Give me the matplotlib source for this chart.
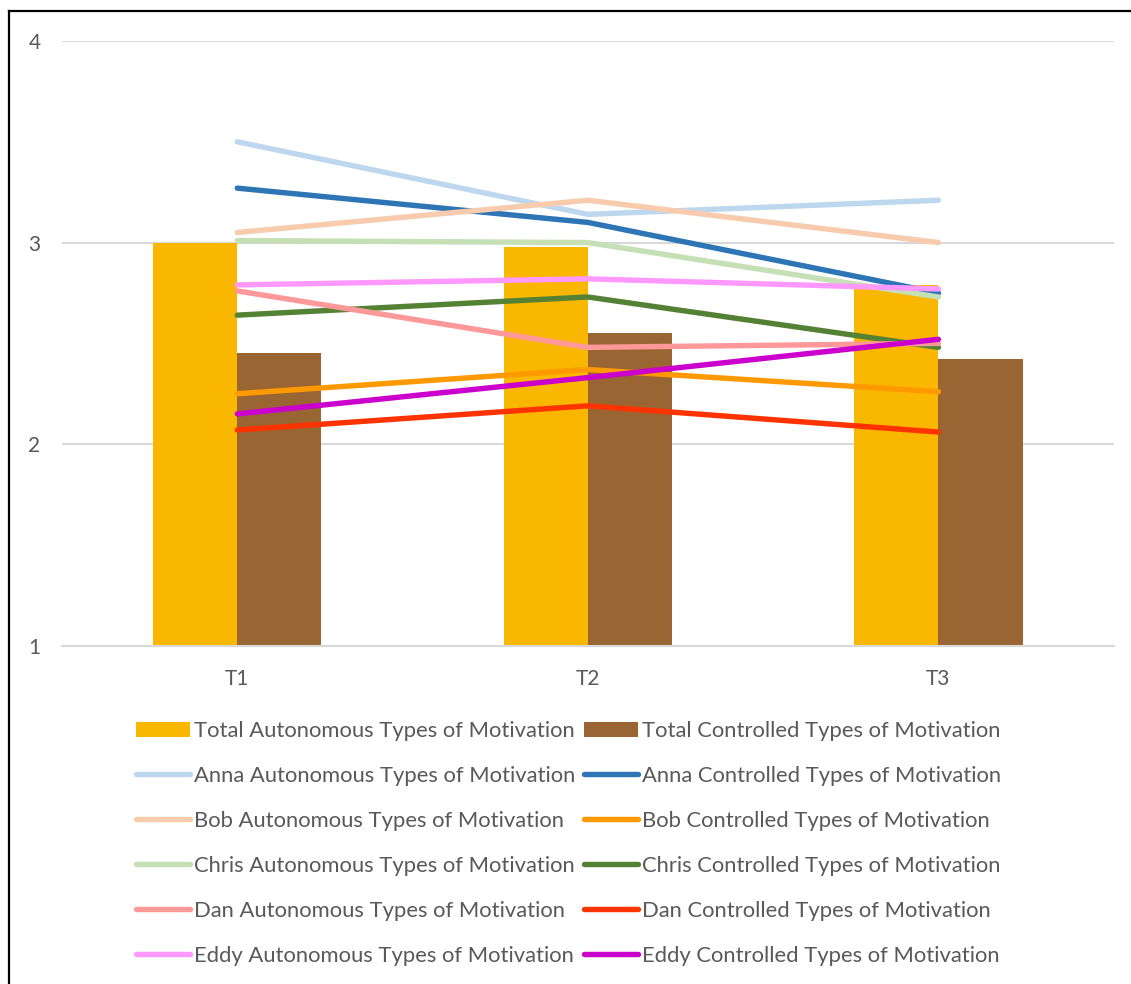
import numpy as np
import matplotlib
matplotlib.use("Agg")
import matplotlib.pyplot as plt
from matplotlib.lines import Line2D

plt.rcParams['font.family'] = ['Lato', 'DejaVu Sans']

times = ["T1", "T2", "T3"]

total_auto = [3.00, 2.98, 2.79]
total_ctrl = [2.45, 2.55, 2.42]

people = ["Anna", "Bob", "Chris", "Dan", "Eddy"]
auto_vals = {
    "Anna":  [3.50, 3.14, 3.21],
    "Bob":   [3.05, 3.21, 3.00],
    "Chris": [3.01, 3.00, 2.73],
    "Dan":   [2.76, 2.48, 2.50],
    "Eddy":  [2.79, 2.82, 2.77],
}
ctrl_vals = {
    "Anna":  [3.27, 3.10, 2.75],
    "Bob":   [2.25, 2.37, 2.26],
    "Chris": [2.64, 2.73, 2.48],
    "Dan":   [2.07, 2.19, 2.06],
    "Eddy":  [2.15, 2.33, 2.52],
}

auto_colors = {"Anna": "#BDD7EE", "Bob": "#F8CBAD", "Chris": "#C5E0B4",
               "Dan": "#FF9999", "Eddy": "#FF99FF"}
ctrl_colors = {"Anna": "#2E75B6", "Bob": "#FF9900", "Chris": "#548235",
               "Dan": "#FF3300", "Eddy": "#CC00CC"}

txt = "#595959"

fig = plt.figure(figsize=(11.31, 9.84), dpi=100)
ax = fig.add_axes([62/1131, 1 - 645.7/984, (1113.7 - 62)/1131, (645.7 - 41)/984])

x = np.arange(len(times))
w = 0.24
b1 = ax.bar(x - w/2, np.array(total_auto) - 1, w, bottom=1, color="#F9B700",
            label="Total Autonomous Types of Motivation", zorder=2)
b2 = ax.bar(x + w/2, np.array(total_ctrl) - 1, w, bottom=1, color="#996633",
            label="Total Controlled Types of Motivation", zorder=2)

auto_handles = [b1]
ctrl_handles = [b2]
for p in people:
    la, = ax.plot(x, auto_vals[p], color=auto_colors[p], lw=3.9,
                  solid_capstyle="round", solid_joinstyle="round", zorder=3,
                  label=p + " Autonomous Types of Motivation")
    lc, = ax.plot(x, ctrl_vals[p], color=ctrl_colors[p], lw=3.9,
                  solid_capstyle="round", solid_joinstyle="round", zorder=3,
                  label=p + " Controlled Types of Motivation")
    auto_handles.append(la)
    ctrl_handles.append(lc)

ax.set_xlim(-0.5, 2.5)
ax.set_ylim(1, 4)
ax.set_yticks([1, 2, 3, 4])
ax.set_xticks(x)
ax.set_xticklabels(times)
ax.yaxis.grid(True, color="#D9D9D9", lw=1.5, zorder=0)
for s in ["top", "right", "left"]:
    ax.spines[s].set_visible(False)
ax.spines["bottom"].set_color("#D9D9D9")
ax.spines["bottom"].set_linewidth(1.5)
ax.tick_params(axis="both", length=0, labelsize=15, colors=txt)
ax.tick_params(axis="y", pad=15.5)
ax.tick_params(axis="x", pad=17)

handles = auto_handles + ctrl_handles
leg = fig.legend(handles=handles, labels=[h.get_label() for h in handles],
                 ncol=2, loc="upper left", bbox_to_anchor=(125/1131, 1 - 710/984),
                 frameon=False, fontsize=15.8, handlelength=2.45, handletextpad=0.2,
                 columnspacing=0.4, labelspacing=1.14, borderpad=0, labelcolor=txt)

# outer frame (left and top edges)
fig.add_artist(Line2D([9/1131, 9/1131], [0, 1 - 11/984], color="black", lw=1.6,
                      transform=fig.transFigure))
fig.add_artist(Line2D([9/1131, 1], [1 - 11/984, 1 - 11/984], color="black", lw=1.6,
                      transform=fig.transFigure))

fig.savefig("out.png", dpi=100)
